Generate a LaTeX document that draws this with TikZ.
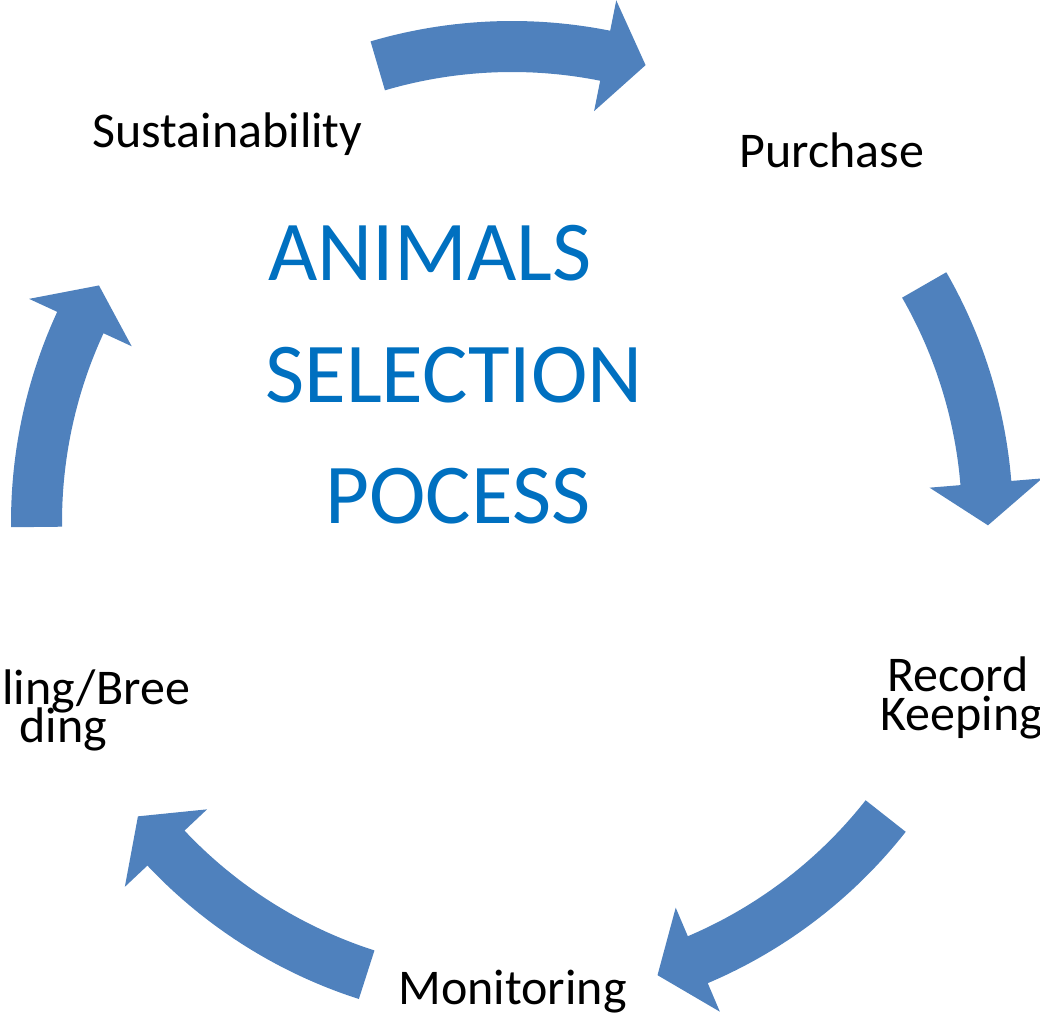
\documentclass[tikz,border=0pt]{standalone}
\usepackage{fontspec}
\setmainfont{Carlito}
\definecolor{arrowblue}{RGB}{79,129,189}
\definecolor{titleblue}{RGB}{0,112,192}
% curved block arrow: tail angle, head-base angle, tip angle
\newcommand\cycarr[3]{%
  \fill[cyc] (#1:501) arc[start angle=#1,end angle=#2,radius=501]
    -- (#2:532) -- (#3:476) -- (#2:419) -- (#2:450)
    arc[start angle=#2,end angle=#1,radius=450] -- cycle;}
\begin{document}
\begin{tikzpicture}[x=0.5pt,y=0.5pt,
  lbl/.style={anchor=base west,inner sep=0pt,text=black,font=\fontsize{25pt}{29pt}\selectfont},
  ttl/.style={anchor=base west,inner sep=0pt,text=titleblue,font=\fontsize{42.6pt}{50pt}\selectfont},
  cyc/.style={fill=arrowblue,draw=none}]
\useasboundingbox (0,0) rectangle (1040,1018);
\clip (0,0) rectangle (1040,1018);
\begin{scope}[shift={(512,496)}]
  \cycarr{106.4}{78.7}{73.7}
  \cycarr{29.9}{4.7}{-0.4}
  \cycarr{-38.2}{-67.0}{-72.2}
  \cycarr{-107.8}{-136.7}{-141.8}
  \cycarr{180.6}{155.2}{150.2}
\end{scope}
% labels
\node[lbl] (sus) at (92,870) {Sustainability};
\node[lbl] (pur) at (739,850) {Purchase};
\node[lbl] (recA) at (887,326) {Record};
\node[lbl] (recB) at (880,287) {Keeping};
\node[lbl] (mon) at (398,13) {Monitoring};
\node[lbl] (hanA) at (2,313) {ling/Bree};
\node[lbl] (hanB) at (19,275) {ding};
% title
\node[ttl] (t1) at (268,737) {ANIMALS};
\node[ttl] (t2) at (265,615) {SELECTION};
\node[ttl] (t3) at (325,494) {POCESS};
\end{tikzpicture}
\end{document}
